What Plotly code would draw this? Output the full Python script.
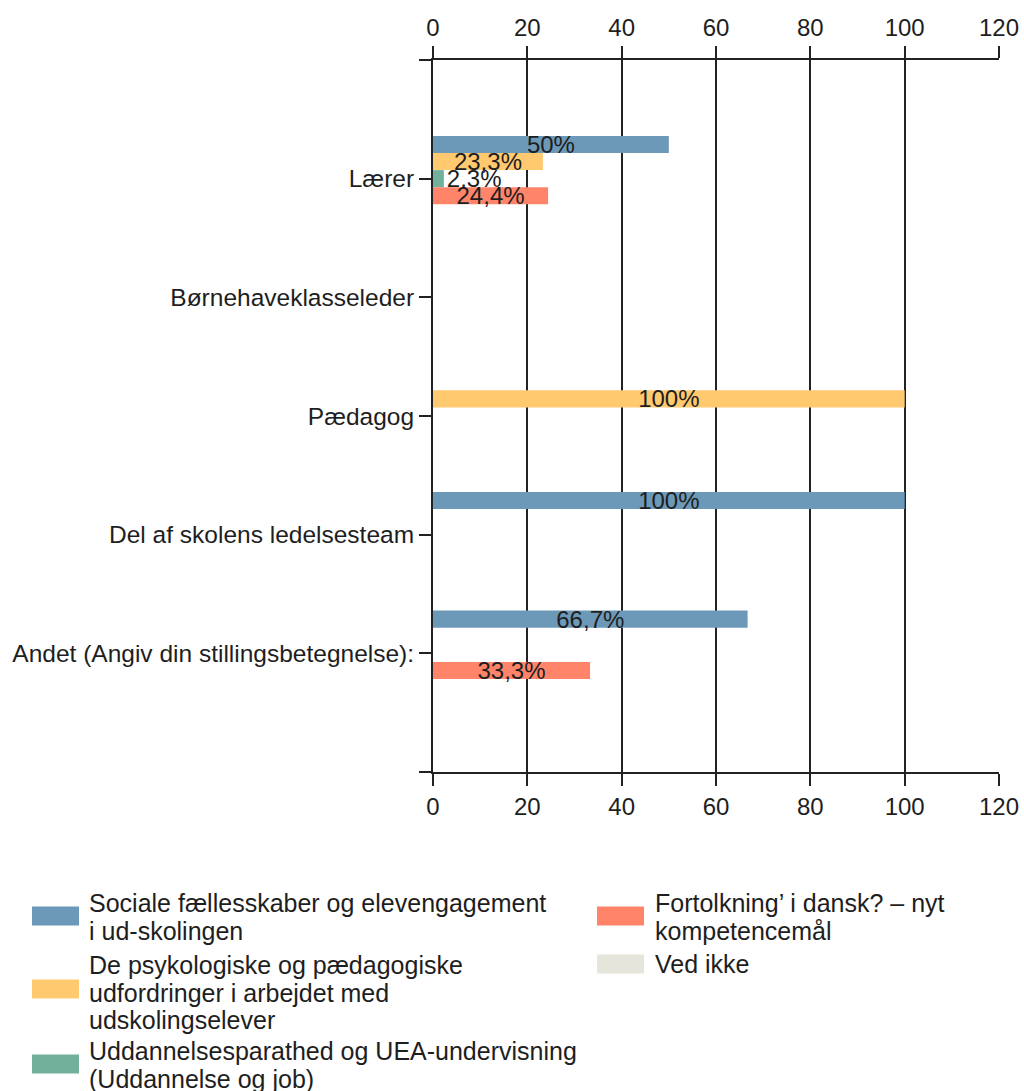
import plotly.graph_objects as go

# Survey answers per job role (percent of respondents in each role)
categories = [
    "Lærer",
    "Børnehaveklasseleder",
    "Pædagog",
    "Del af skolens ledelsesteam",
    "Andet (Angiv din stillingsbetegnelse):",
]
series_names = [
    "Sociale fællesskaber og elevengagement<br>i ud-skolingen",
    "De psykologiske og pædagogiske<br>udfordringer i arbejdet med<br>udskolingselever",
    "Uddannelsesparathed og UEA-undervisning<br>(Uddannelse og job)",
    "Fortolkning’ i dansk? – nyt<br>kompetencemål",
    "Ved ikke",
]
sociale = [50, None, None, 100, 66.7]
psykologiske = [23.3, None, 100, None, None]
uddannelse = [2.3, None, None, None, None]
fortolkning = [24.4, None, None, None, 33.3]
ved_ikke = [None, None, None, None, None]
x_ticks = [0, 20, 40, 60, 80, 100, 120]

series_values = [sociale, psykologiske, uddannelse, fortolkning, ved_ikke]
colors = ["#6d99b9", "#ffc970", "#72b09c", "#ff846a", "#e6e5dc"]

FONT = "Liberation Sans, Arial, sans-serif"
INK = "#1e1e1e"
LINE = "#222222"
LABEL_SIZE = 25
CAT_SIZE = 24.5
NUM_SIZE = 24

W, H = 1024, 1091
M_L, M_R, M_T, M_B = 433, 25, 60, 319
PW, PH = W - M_L - M_R, H - M_T - M_B


def px_x(px):
    return (px - M_L) / PW


def px_y(py):
    return (H - M_B - py) / PH


def fmt(v):
    return f"{v:g}".replace(".", ",") + "%"


positions = list(range(len(categories)))

fig = go.Figure()
for name, vals, col in zip(series_names, series_values, colors):
    texts = [fmt(v) if v is not None else "" for v in vals]
    tpos = ["outside" if (v is not None and v < 5) else "inside" for v in vals]
    fig.add_trace(go.Bar(
        x=vals, y=positions, orientation="h", name=name,
        marker=dict(color=col, line=dict(width=0)),
        text=texts, textposition=tpos, insidetextanchor="middle",
        constraintext="none", cliponaxis=False,
        textfont=dict(family=FONT, size=NUM_SIZE, color=INK),
        showlegend=False, hoverinfo="x+y",
    ))

# Empty trace so the mirrored top value axis is drawn with labels
fig.add_trace(go.Scatter(x=[None], y=[None], xaxis="x2", yaxis="y",
                         mode="markers", showlegend=False, hoverinfo="skip"))

axis_common = dict(
    range=[0, 120], tickvals=x_ticks, ticktext=[str(t) for t in x_ticks],
    ticks="outside", ticklen=12, tickwidth=2, tickcolor=LINE,
    showline=True, linewidth=2, linecolor=LINE, zeroline=False,
    automargin=False,
    tickfont=dict(family=FONT, size=NUM_SIZE, color=INK),
)

fig.update_layout(
    width=W, height=H, autosize=False,
    margin=dict(l=M_L, r=M_R, t=M_T, b=M_B, pad=0),
    paper_bgcolor="white", plot_bgcolor="white",
    barmode="group", bargap=0.28, bargroupgap=0,
    font=dict(family=FONT, size=LABEL_SIZE, color=INK),
    xaxis=dict(side="bottom", showgrid=True, gridcolor=LINE, gridwidth=2, **axis_common),
    xaxis2=dict(side="top", overlaying="x", anchor="y", showgrid=False, **axis_common),
    yaxis=dict(
        range=[len(categories), -1],
        tickvals=[-1] + positions + [len(categories)],
        ticktext=[""] + categories + [""],
        ticks="outside", ticklen=12, tickwidth=2, tickcolor=LINE,
        showline=True, linewidth=2, linecolor=LINE,
        showgrid=False, zeroline=False, automargin=False,
        tickfont=dict(family=FONT, size=CAT_SIZE, color=INK),
    ),
    showlegend=False,
)

# Legend: two columns of colour swatches with wrapped labels
legend_layout = [
    # (swatch left px, swatch centre y px, text left px, first line centre y px)
    (32, 916, 87, 903),
    (32, 989, 87, 965),
    (32, 1064, 87, 1051),
    (597, 916, 653, 903),
    (597, 964, 653, 964),
]
SW_W, SW_H, LINE_H = 47, 19, 27.5
for name, col, (sx, sy, tx, ty) in zip(series_names, colors, legend_layout):
    fig.add_shape(
        type="rect", xref="paper", yref="paper",
        x0=px_x(sx), x1=px_x(sx + SW_W),
        y0=px_y(sy - SW_H / 2), y1=px_y(sy + SW_H / 2),
        fillcolor=col, line=dict(width=0), layer="above",
    )
    for i, line in enumerate(name.split("<br>")):
        fig.add_annotation(
            xref="paper", yref="paper", x=px_x(tx), y=px_y(ty + i * LINE_H),
            text=line, showarrow=False, xanchor="left", yanchor="middle",
            font=dict(family=FONT, size=LABEL_SIZE, color=INK),
        )

fig.write_html("out.html")
